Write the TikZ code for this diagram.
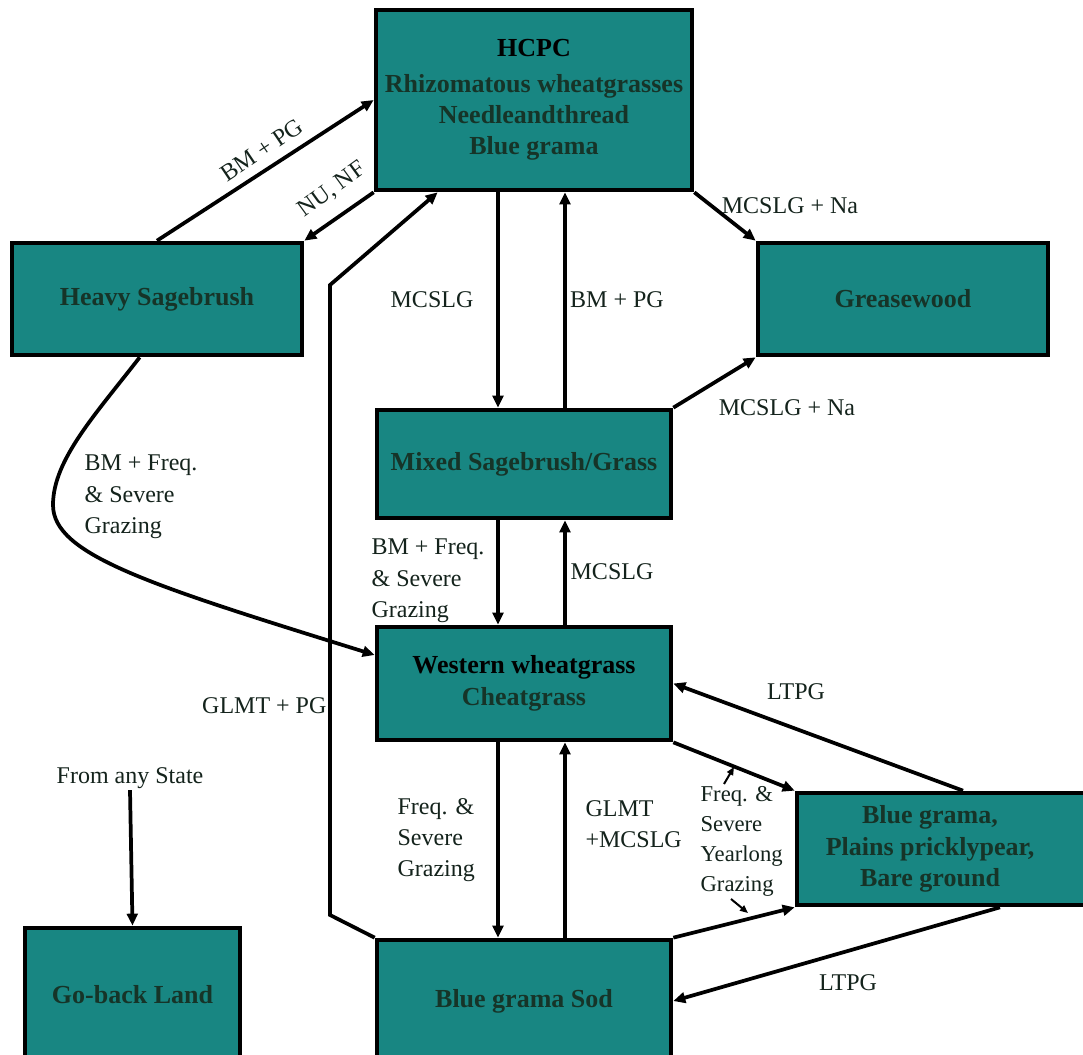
\documentclass[tikz,border=0pt]{standalone}
\usepackage{fontspec}
\setmainfont{Liberation Serif}
\usetikzlibrary{arrows.meta,calc}
\definecolor{tealfill}{RGB}{24,134,130}
\definecolor{boxtxt}{RGB}{22,52,40}
\definecolor{lbl}{RGB}{20,35,28}
\begin{document}
\begin{tikzpicture}[x=0.75pt,y=-0.75pt,
  box/.style={draw=black, fill=tealfill, line width=3.5pt, inner sep=2pt, align=center,
    font=\fontsize{19.5}{23.5}\selectfont\bfseries, text=boxtxt},
  boxtext/.style={inner sep=1pt, align=center, font=\fontsize{19.5}{23.5}\selectfont\bfseries, text=boxtxt},
  lab/.style={font=\fontsize{18}{23.5}\selectfont, text=lbl, inner sep=1pt, align=left},
  conn/.style={line width=2.8pt, -{Triangle[length=9pt,width=8pt]}},
  thinconn/.style={line width=1.5pt, -{Triangle[length=6pt,width=5pt]}}
]
\useasboundingbox (0,0) rectangle (1083,1055);
\fill[white] (0,0) rectangle (1083,1055);
\clip (0,0) rectangle (1083,1055);

% boxes
\node[box, minimum width=237pt, minimum height=135pt] (hcpc) at (534,100)
  {\textcolor{black}{HCPC}\\[3pt] Rhizomatous wheatgrasses\\ Needleandthread\\ Blue grama};
\node[box, minimum width=217.5pt, minimum height=84pt] (heavy) at (157,299) {Heavy Sagebrush};
\node[box, minimum width=217.5pt, minimum height=84pt] (grease) at (903,299) {Greasewood};
\node[box, minimum width=220.5pt, minimum height=81pt] (mixed) at (524,464) {Mixed Sagebrush/Grass};
\node[box, minimum width=220.5pt, minimum height=84.75pt] (western) at (524,683.5)
  {\textcolor{black}{Western wheatgrass}\\ Cheatgrass};
\node[box, minimum width=223.5pt, minimum height=84pt] (bg) at (946,849) {};
\node[boxtext] (bgtext) at (930,849) {Blue grama,\\ Plains pricklypear,\\ Bare ground};
\node[box, minimum width=161.25pt, minimum height=100.5pt] (goback) at (132.5,995) {Go-back Land};
\node[box, minimum width=220.5pt, minimum height=91.5pt] (sod) at (524,1001) {Blue grama Sod};

% helper coordinates
\coordinate (xd) at (498,0);
\coordinate (xu) at (565,0);
\coordinate (g1) at (330,915);
\coordinate (g2) at (330,285);

% connectors
\draw[conn] (heavy.north) -- (hcpc.west);
\draw[conn] (hcpc.south west) -- (heavy.north east);
\draw[conn] (sod.north west) -- (g1) -- (g2) -- ($(hcpc.south west)+(64,0)$);
\draw[conn] (hcpc.south -| xd) -- (mixed.north -| xd);
\draw[conn] (mixed.north -| xu) -- (hcpc.south -| xu);
\draw[conn] (hcpc.south east) -- (grease.north west);
\draw[conn] (mixed.north east) -- (grease.south west);
\draw[conn] ($(heavy.south west)+(130,0)$) .. controls (95,415) and (53,460) .. (53,505)
   .. controls (53,555) and (150,585) .. (western.west |- 0,655);
\draw[conn] (mixed.south -| xd) -- (western.north -| xd);
\draw[conn] (western.north -| xu) -- (mixed.south -| xu);
\draw[conn] (western.south -| xd) -- (sod.north -| xd);
\draw[conn] (sod.north -| xu) -- (western.south -| xu);
\draw[conn] (western.south east) -- (bg.north west);
\draw[conn] (sod.north east) -- (bg.south west);
\draw[conn] (bg.north -| 963,0) -- (western.east);
\draw[conn] (bg.south -| 1000,0) -- (sod.east);

% labels
\node[lab, rotate=34] (l1) at (262,150) {BM + PG};
\node[lab, rotate=36] (l2) at (332,190) {NU, NF};
\node[lab, anchor=east] (l3) at (328,706) {GLMT + PG};
\node[lab] (l4) at (432,300) {MCSLG};
\node[lab] (l5) at (617,300) {BM + PG};
\node[lab] (l6) at (790,206) {MCSLG + Na};
\node[lab] (l7) at (787,408) {MCSLG + Na};
\node[lab, anchor=west] (l8) at (83,497) {BM + Freq.\\ \& Severe\\ Grazing};
\node[lab, anchor=west] (l9) at (370,581) {BM + Freq.\\ \& Severe\\ Grazing};
\node[lab] (l10) at (612,572) {MCSLG};
\node[lab, anchor=west] (l11) at (396,840) {Freq. \&\\ Severe\\ Grazing};
\node[lab, anchor=west] (l12) at (584,824) {GLMT\\ +MCSLG};
\node[lab, anchor=west, font=\fontsize{17}{22.5}\selectfont] (l13) at (699,841) {Freq. \&\\ Severe\\ Yearlong\\ Grazing};
\node[lab] (l14) at (796,692) {LTPG};
\node[lab] (l15) at (848,983) {LTPG};
\node[lab] (fas) at (130,778) {From any State};
\draw[conn] (fas.south) -- (goback.north);

% small leader arrows
\coordinate (s1) at (724,784);
\coordinate (s1e) at (734,767);
\coordinate (s2) at (731,899);
\coordinate (s2e) at (748,913);
\draw[thinconn] (s1) -- (s1e);
\draw[thinconn] (s2) -- (s2e);
\end{tikzpicture}
\end{document}
